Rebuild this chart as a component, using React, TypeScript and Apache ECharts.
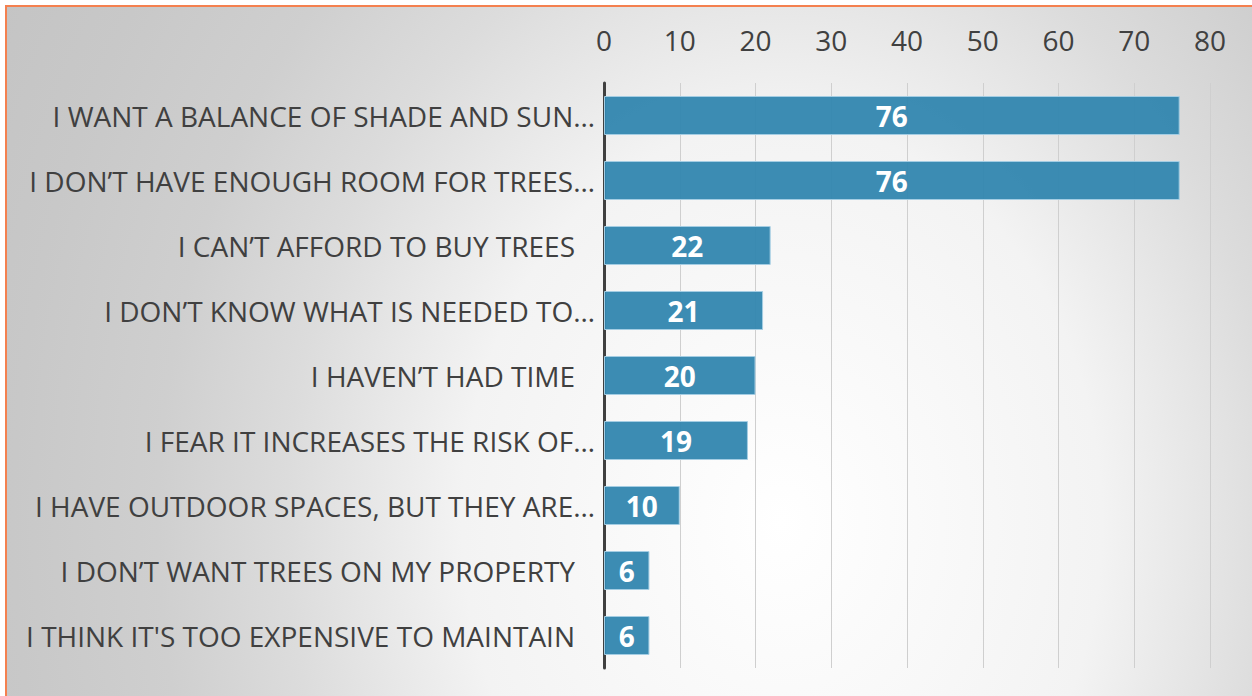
import React, { useEffect, useRef } from "react";
import * as echarts from "echarts";

const categories = [
  "I WANT A BALANCE OF SHADE AND SUN…",
  "I DON’T HAVE ENOUGH ROOM FOR TREES…",
  "I CAN’T AFFORD TO BUY TREES",
  "I DON’T KNOW WHAT IS NEEDED TO…",
  "I HAVEN’T HAD TIME",
  "I FEAR IT INCREASES THE RISK OF…",
  "I HAVE OUTDOOR SPACES, BUT THEY ARE…",
  "I DON’T WANT TREES ON MY PROPERTY",
  "I THINK IT'S TOO EXPENSIVE TO MAINTAIN",
];
const values = [76, 76, 22, 21, 20, 19, 10, 6, 6];
const axisMin = 0;
const axisMax = 80;
const axisStep = 10;

const FONT = "'Open Sans', sans-serif";

export default function App() {
  const ref = useRef<HTMLDivElement>(null);
  useEffect(() => {
    if (!ref.current) return;
    const chart = echarts.init(ref.current, undefined, { renderer: "svg" });
    chart.setOption({
      animation: false,
      backgroundColor: "transparent",
      grid: {
        left: 604,
        right: 42,
        top: 83,
        bottom: 28,
        containLabel: false,
        outerBoundsMode: "none",
      },
      xAxis: {
        type: "value",
        position: "top",
        min: axisMin,
        max: axisMax,
        interval: axisStep,
        axisLine: { show: false },
        axisTick: { show: false },
        splitLine: { show: true, lineStyle: { color: "#cfcfcf", width: 1 } },
        axisLabel: {
          color: "#404040",
          fontSize: 28,
          fontFamily: FONT,
          margin: 29,
        },
      },
      yAxis: {
        type: "category",
        inverse: true,
        data: categories,
        axisLine: { show: true, lineStyle: { color: "#404040", width: 3 } },
        axisTick: { show: false },
        axisLabel: {
          margin: 9,
          formatter: (v: string) =>
            v.endsWith("…") ? `{a|${v}}` : `{b|${v}}`,
          rich: {
            a: { color: "#404040", fontSize: 28, fontFamily: FONT },
            b: {
              color: "#404040",
              fontSize: 28,
              fontFamily: FONT,
              padding: [0, 20, 0, 0],
            },
          },
        },
      },
      series: [
        {
          type: "bar",
          data: values,
          barCategoryGap: "40%",
          itemStyle: {
            color: "rgba(50,134,175,0.95)",
            borderColor: "#a4cde3",
            borderWidth: 1,
          },
          label: {
            show: true,
            position: "inside",
            color: "#ffffff",
            fontWeight: "bold",
            fontSize: 28,
            fontFamily: FONT,
          },
        },
      ],
    });
    return () => chart.dispose();
  }, []);

  return (
    <div
      style={{
        position: "fixed",
        left: 0,
        top: 0,
        width: 1252,
        height: 696,
        overflow: "hidden",
        background: "#ffffff",
      }}
    >
      <div
        style={{
          position: "absolute",
          left: 5,
          top: 5,
          width: 1270,
          height: 710,
          borderTop: "2px solid #f4804f",
          borderLeft: "2px solid #f4804f",
          background:
            "radial-gradient(ellipse 800px 1000px at 775px 515px, #ffffff 0%, #f3f3f3 40%, #dcdcdc 62%, #cfcfcf 78%, #c8c8c8 96%, #c3c3c3 115%)",
        }}
      />
      <div
        ref={ref}
        style={{ position: "absolute", left: 0, top: 0, width: 1252, height: 696 }}
      />
    </div>
  );
}
